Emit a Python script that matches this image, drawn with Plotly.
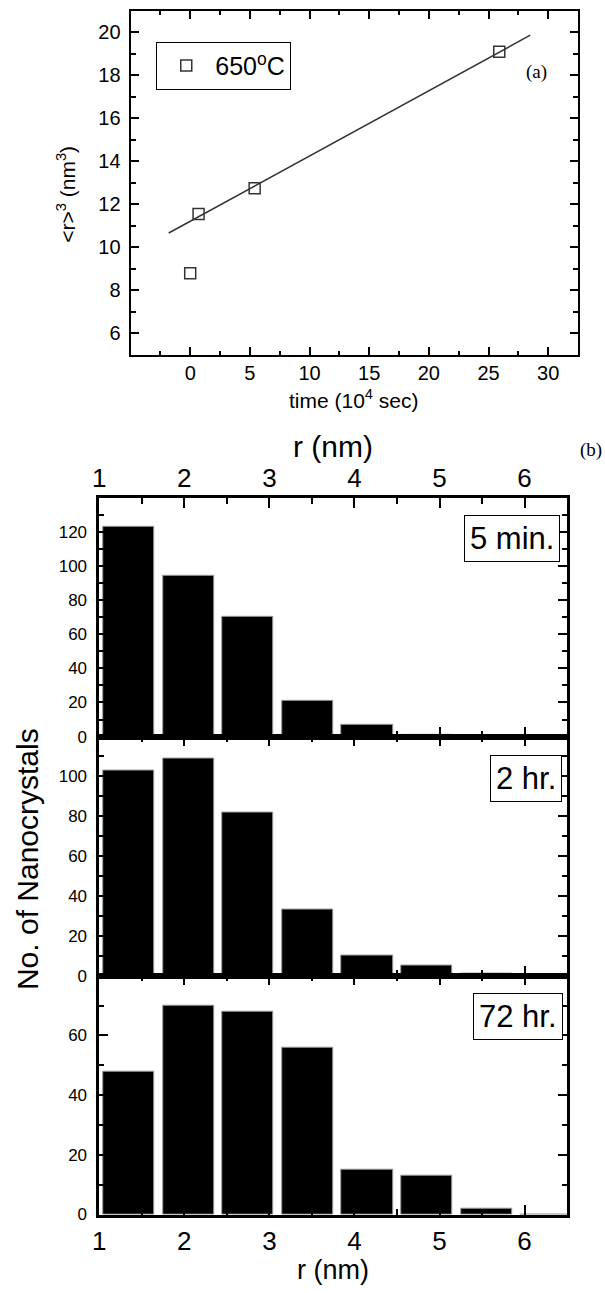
import plotly.graph_objects as go

W, H = 605, 1293

# ---------------- data (a) ----------------
a_time = [0, 0.7, 5.4, 25.9]          # 10^4 sec
a_r3 = [8.8, 11.55, 12.75, 19.1]      # nm^3
fit_time = [-1.8, 28.5]
fit_r3 = [10.67, 19.87]
a_xticks = [0, 5, 10, 15, 20, 25, 30]
a_xminor = [-2.5, 2.5, 7.5, 12.5, 17.5, 22.5, 27.5]
a_yticks = [6, 8, 10, 12, 14, 16, 18, 20]
a_yminor = [5, 7, 9, 11, 13, 15, 17, 19, 21]

# ---------------- data (b) ----------------
r_bins = [1.35, 2.05, 2.75, 3.45, 4.15, 4.85, 5.55, 6.25]   # nm
counts_5min = [123, 94, 70, 21, 7, 1, 0, 0]
counts_2hr = [103, 109, 82, 33, 10, 5, 1, 0]
counts_72hr = [48, 70, 68, 56, 15, 13, 2, 0]
panel_labels = ["5 min.", "2 hr.", "72 hr."]
b_xticks = [1, 2, 3, 4, 5, 6]
b_xminor = [1.5, 2.5, 3.5, 4.5, 5.5, 6.5]
b_yticks = [[0, 20, 40, 60, 80, 100, 120], [0, 20, 40, 60, 80, 100], [0, 20, 40, 60]]
b_yminor = [[10, 30, 50, 70, 90, 110, 130], [10, 30, 50, 70, 90, 110], [10, 30, 50, 70]]

SANS = "Liberation Sans, Arial, sans-serif"
SERIF = "Liberation Serif, Times New Roman, serif"


def px_x(p):
    return p / W


def px_y(p):
    return 1 - p / H


fig = go.Figure()

# (a) traces
fig.add_trace(go.Scatter(x=fit_time, y=fit_r3, mode="lines",
                         line=dict(color="#333333", width=1.5),
                         showlegend=False, xaxis="x", yaxis="y"))
fig.add_trace(go.Scatter(x=a_time, y=a_r3, mode="markers", name="650<sup>o</sup>C",
                         marker=dict(symbol="square-open", size=11, color="#333333",
                                     line=dict(width=1.5, color="#333333")),
                         xaxis="x", yaxis="y"))

# (b) traces
for i, counts in enumerate([counts_5min, counts_2hr, counts_72hr]):
    k = str(i + 2)
    fig.add_trace(go.Bar(x=r_bins, y=counts, width=0.6,
                         marker=dict(color="black", line=dict(color="#9a9a9a", width=1)),
                         showlegend=False, xaxis="x" + k, yaxis="y" + k))

common = dict(showline=True, linecolor="black", mirror="ticks", ticks="inside",
              tickcolor="black", showgrid=False, zeroline=False,
              tickfont=dict(family=SANS, color="black"))

layout = dict(
    width=W, height=H, margin=dict(l=0, r=0, t=0, b=0),
    paper_bgcolor="white", plot_bgcolor="white",
    bargap=0,
    showlegend=True,
    legend=dict(x=px_x(151), y=px_y(42), xanchor="left", yanchor="top",
                bordercolor="black", borderwidth=1, bgcolor="white",
                font=dict(family=SANS, size=25, color="black"), itemwidth=48,
                tracegroupgap=0),
)

layout["xaxis"] = dict(common, domain=[px_x(125), px_x(577.7)], anchor="y",
                       range=[-5, 32.5], tickmode="array", tickvals=a_xticks,
                       ticklen=8, tickwidth=1.5, linewidth=2,
                       tickfont=dict(family=SANS, size=20, color="black"),
                       ticklabelstandoff=-1,
                       minor=dict(tickmode="array", tickvals=a_xminor, ticks="inside",
                                  ticklen=4, tickwidth=1.5, tickcolor="black"))
layout["yaxis"] = dict(common, domain=[px_y(357.7), px_y(11)], anchor="x",
                       range=[5, 21], tickmode="array", tickvals=a_yticks,
                       ticklen=8, tickwidth=1.5, linewidth=2,
                       tickfont=dict(family=SANS, size=20, color="black"),
                       ticklabelstandoff=4,
                       minor=dict(tickmode="array", tickvals=a_yminor, ticks="inside",
                                  ticklen=5, tickwidth=1.5, tickcolor="black"))

panel_px = [(501.7, 742.3), (742.3, 983.3), (983.3, 1224)]
yranges = [[0, 140], [0, 120], [0, 80]]
for i in range(3):
    k = str(i + 2)
    top, bot = panel_px[i]
    xa = dict(common, domain=[px_x(93.3), px_x(566.7)], anchor="y" + k,
              range=[1, 6.5], tickmode="array", tickvals=b_xticks,
              ticklen=10, tickwidth=2, linewidth=2.5,
              tickfont=dict(family=SANS, size=26, color="black"),
              minor=dict(tickmode="array", tickvals=b_xminor, ticks="inside",
                         ticklen=6, tickwidth=2, tickcolor="black"))
    if i == 0:
        xa.update(side="top", showticklabels=True, ticklabelstandoff=-2)
    elif i == 2:
        xa.update(side="bottom", showticklabels=True, ticklabelstandoff=2)
    else:
        xa.update(showticklabels=False)
    layout["xaxis" + k] = xa
    layout["yaxis" + k] = dict(common, domain=[px_y(bot), px_y(top)], anchor="x" + k,
                               range=yranges[i], tickmode="array", tickvals=b_yticks[i],
                               ticklen=9, tickwidth=2, linewidth=2.5,
                               tickfont=dict(family=SANS, size=17, color="black"),
                               ticklabelstandoff=6,
                               minor=dict(tickmode="array", tickvals=b_yminor[i],
                                          ticks="inside", ticklen=5,
                                          tickwidth=2, tickcolor="black"))

annotations = [
    # (a) axis titles
    dict(text="&lt;r&gt;<sup>3</sup> (nm<sup>3</sup>)", x=px_x(60), y=px_y(196),
         textangle=-90, font=dict(family=SANS, size=21, color="black")),
    dict(text="time (10<sup>4</sup> sec)", x=px_x(351), y=px_y(402),
         font=dict(family=SANS, size=21, color="black")),
    dict(text="(a)", x=px_x(536), y=px_y(73), font=dict(family=SERIF, size=19, color="black")),
    # (b)
    dict(text="r (nm)", x=px_x(330), y=px_y(450), font=dict(family=SANS, size=30, color="black")),
    dict(text="(b)", x=px_x(591), y=px_y(454), font=dict(family=SERIF, size=19, color="black")),
    dict(text="r (nm)", x=px_x(330), y=px_y(1280), font=dict(family=SANS, size=27, color="black")),
    dict(text="No. of Nanocrystals", x=px_x(21), y=px_y(866), textangle=-90,
         font=dict(family=SANS, size=30, color="black")),
]
for a in annotations:
    a["xanchor"] = "center"
    a["yanchor"] = "middle"
box_pos = [(559.3, 519.3), (562, 761), (562.7, 1000.5)]
for lab, (bx, by) in zip(panel_labels, box_pos):
    annotations.append(dict(text=lab, x=px_x(bx), y=px_y(by), xanchor="right", yanchor="top",
                            bordercolor="black", borderwidth=1, borderpad=5, bgcolor="white",
                            font=dict(family=SANS, size=31, color="black")))
for a in annotations:
    a.setdefault("xref", "paper")
    a.setdefault("yref", "paper")
    a.setdefault("showarrow", False)
layout["annotations"] = annotations

fig.update_layout(layout)
fig.write_html("out.html")
